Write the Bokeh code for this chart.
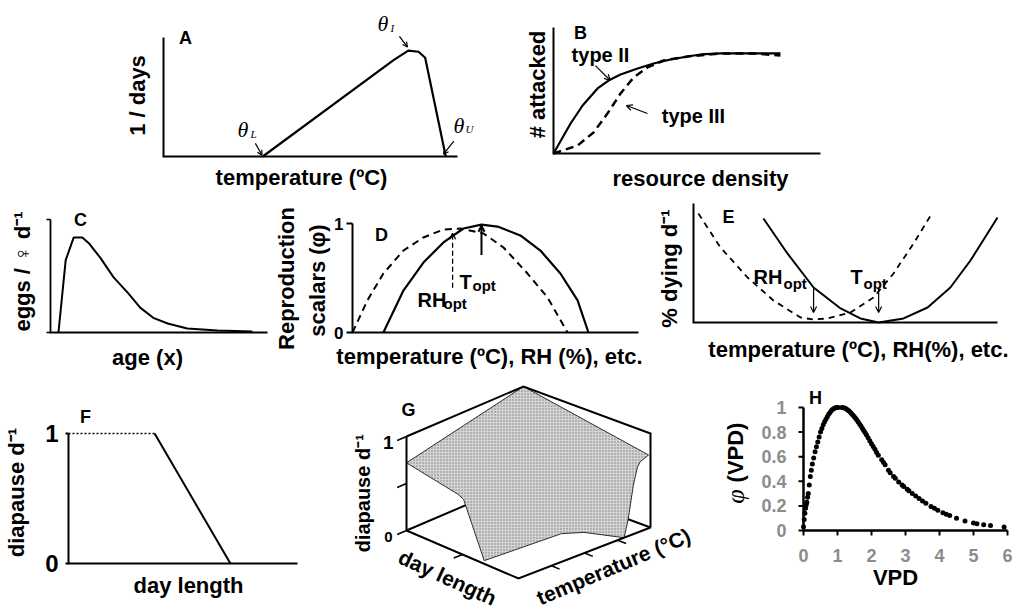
import math
from bokeh.plotting import figure
from bokeh.layouts import column, row
from bokeh.models import Range1d, Label, Arrow, OpenHead
from bokeh.embed import file_html
from bokeh.resources import INLINE

# ---------------- data ----------------
# A: development rate vs temperature
A_temp = [13.5, 31.3, 33.3, 34.7, 35.6, 38.4]
A_rate = [0.0, 0.81, 0.89, 0.88, 0.83, 0.0]

# B: functional responses
B_density2 = [0, 0.064, 0.109, 0.165, 0.206, 0.251, 0.315, 0.375, 0.438, 0.502, 0.551, 0.625, 0.674, 0.749, 0.85]
B_type2 = [0, 0.238, 0.381, 0.516, 0.579, 0.627, 0.675, 0.714, 0.746, 0.770, 0.786, 0.794, 0.794, 0.794, 0.794]
B_density3 = [0, 0.09, 0.15, 0.202, 0.251, 0.30, 0.352, 0.412, 0.502, 0.625, 0.749, 0.85]
B_type3 = [0, 0.063, 0.167, 0.317, 0.476, 0.603, 0.683, 0.738, 0.770, 0.794, 0.794, 0.778]

# C: fecundity vs age
C_age = [1.1, 2.1, 3.2, 4.4, 5.3, 6.9, 8.7, 10.7, 12.4, 14.2, 16.2, 18.9, 23.1, 27.9]
C_eggs = [0, 0.64, 0.84, 0.84, 0.79, 0.66, 0.49, 0.35, 0.22, 0.13, 0.08, 0.035, 0.018, 0.009]

# D: reproduction scalars
D_temp = [0.108, 0.178, 0.248, 0.318, 0.388, 0.451, 0.507, 0.587, 0.657, 0.727, 0.787, 0.825]
D_temp_phi = [0, 0.385, 0.642, 0.826, 0.954, 0.99, 0.972, 0.890, 0.752, 0.541, 0.294, 0]
D_rh = [0, 0.052, 0.108, 0.178, 0.248, 0.318, 0.378, 0.458, 0.528, 0.612, 0.682, 0.752]
D_rh_phi = [0, 0.294, 0.541, 0.752, 0.872, 0.945, 0.954, 0.908, 0.780, 0.541, 0.321, 0]
D_T_opt = 0.451
D_RH_opt = 0.35
D_ticks = [0, 1]

# E: mortality
E_temp = [0.23, 0.309, 0.395, 0.484, 0.549, 0.609, 0.691, 0.77, 0.845, 0.911, 0.967, 1.0]
E_temp_mort = [0.874, 0.58, 0.294, 0.118, 0.034, 0.0, 0.034, 0.126, 0.294, 0.521, 0.748, 0.882]
E_rh = [0.016, 0.089, 0.178, 0.263, 0.352, 0.395, 0.441, 0.516, 0.592, 0.658, 0.724, 0.78]
E_rh_mort = [0.916, 0.63, 0.378, 0.185, 0.042, 0.025, 0.034, 0.084, 0.21, 0.412, 0.664, 0.899]
E_RH_opt = 0.395
E_T_opt = 0.609

# F: diapause vs day length
F_day = [0, 0.376, 0.707]
F_dia = [1, 1, 0]
F_ticks = [0, 1]

# G: diapause surface (day length, temperature, diapause) outline
G_day = [0, 0.46, 0.51, 0.66, 0.70, 0.78, 1, 1, 1, 1, 1, 1, 0]
G_temp = [0, 0, 0, 0.03, 0.6, 0.7, 0.8, 0.83, 0.87, 0.9, 0.92, 0.985, 1]
G_dia = [0.72, 0.62, 0.59, 0, 0, 0, 0, 0.17, 0.52, 0.69, 0.74, 0.78, 1]
G_z_ticks = [0, 0.5, 1]
G_day_ticks = [0.5]
G_temp_ticks = [0.25, 0.5, 0.75]

# H: phi(VPD)
H_vpd = [0.0, 0.02, 0.04, 0.06, 0.08, 0.1, 0.12, 0.14, 0.17, 0.2, 0.23, 0.26, 0.3, 0.34, 0.38, 0.42,
         0.46, 0.5, 0.54, 0.58, 0.62, 0.66, 0.7, 0.74, 0.78, 0.82, 0.86, 0.9, 0.94, 0.98, 1.02,
         1.13, 1.17, 1.21, 1.25, 1.29, 1.33, 1.37, 1.41, 1.45, 1.49, 1.53, 1.57, 1.61, 1.65, 1.69,
         1.73, 1.77, 1.81, 1.85, 1.9, 1.95, 2.0, 2.05, 2.1, 2.15, 2.2, 2.3, 2.35, 2.4, 2.5, 2.55,
         2.65, 2.7, 2.8, 2.9, 2.95, 3.05, 3.1, 3.2, 3.3, 3.4, 3.5, 3.6, 3.75, 3.85, 3.95, 4.1, 4.2,
         4.3, 4.5, 4.75, 5.0, 5.1, 5.3, 5.5, 5.9]
H_phi = [0.03, 0.09, 0.14, 0.18, 0.21, 0.23, 0.27, 0.3, 0.37, 0.44, 0.49, 0.54, 0.59, 0.64, 0.68, 0.72,
         0.76, 0.8, 0.83, 0.86, 0.885, 0.905, 0.925, 0.945, 0.96, 0.975, 0.985, 0.992, 0.997, 1.0, 1.0,
         1.0, 0.998, 0.995, 0.99, 0.982, 0.973, 0.963, 0.952, 0.94, 0.927, 0.913, 0.898, 0.882, 0.866, 0.849,
         0.832, 0.814, 0.796, 0.778, 0.755, 0.73, 0.706, 0.683, 0.66, 0.635, 0.612, 0.575, 0.555, 0.535, 0.49, 0.47,
         0.44, 0.425, 0.395, 0.37, 0.358, 0.335, 0.323, 0.3, 0.28, 0.26, 0.24, 0.222, 0.196, 0.18, 0.165, 0.145, 0.133,
         0.122, 0.1, 0.078, 0.06, 0.055, 0.046, 0.04, 0.028]
H_x_ticks = [0, 1, 2, 3, 4, 5, 6]
H_y_ticks = [0, 0.2, 0.4, 0.6, 0.8, 1]
H_y_labels = ["0", "0.2", "0.4", "0.6", "0.8", "1"]

# ---------------- helpers ----------------
SANS = "Liberation Sans"
SERIF = "Liberation Serif"
LBL = 22
V = math.pi / 2
BASE_SHIFT = 6  # alphabetic labels render a little low; lift them along their own "up"


class Panel:
    """A figure whose frame covers the whole panel box; the axes box (frame)
    is given in page pixels and maps to the data ranges xr, yr."""

    def __init__(self, box, frame, xr, yr):
        self.xr, self.yr, self.frame = xr, yr, frame
        self.kx = (xr[1] - xr[0]) / (frame[2] - frame[0])
        self.ky = (yr[1] - yr[0]) / (frame[3] - frame[1])
        x0, ytop = self.conv(box[0], box[1])
        x1, ybot = self.conv(box[2], box[3])
        self.p = figure(width=box[2] - box[0], height=box[3] - box[1],
                        x_range=Range1d(x0, x1), y_range=Range1d(ybot, ytop),
                        x_axis_type=None, y_axis_type=None,
                        min_border_left=0, min_border_right=0, min_border_top=0,
                        min_border_bottom=0, output_backend="svg", toolbar_location=None,
                        title=None, outline_line_color=None, background_fill_color="white",
                        border_fill_color="white")
        self.p.grid.visible = False

    def conv(self, rx, ry):
        return (self.xr[0] + (rx - self.frame[0]) * self.kx,
                self.yr[0] + (self.frame[3] - ry) * self.ky)

    def axes(self, width=2.0):
        xr, yr = self.xr, self.yr
        self.p.line([xr[0], xr[0], xr[1]], [yr[1], yr[0], yr[0]], line_width=width,
                    line_color="black", line_join="miter")

    def yticks(self, vals, length, width=2.0):
        x0 = self.xr[0]
        self.p.segment(x0=[x0 - length * self.kx] * len(vals), y0=vals, x1=[x0] * len(vals), y1=vals,
                       line_width=width, line_color="black")

    def xticks(self, vals, length, width=2.0):
        y0 = self.yr[0]
        self.p.segment(x0=vals, y0=[y0 - length * self.ky] * len(vals), x1=vals, y1=[y0] * len(vals),
                       line_width=width, line_color="black")

    def lab(self, rx, ry, text, size, align="center", baseline="alphabetic", angle=0.0,
            font=SANS, style="bold", color="black"):
        if baseline == "alphabetic":
            rx -= BASE_SHIFT * math.sin(angle)
            ry -= BASE_SHIFT * math.cos(angle)
        x, y = self.conv(rx, ry)
        self.p.add_layout(Label(x=x, y=y, text=text, text_font=font, text_font_style=style,
                                text_font_size=f"{size}px", text_align=align,
                                text_baseline=baseline, angle=angle, text_color=color))

    def dlab(self, x, y, text, size, align="center", baseline="middle", color="black"):
        self.p.add_layout(Label(x=x, y=y, text=text, text_font=SANS, text_font_style="bold",
                                text_font_size=f"{size}px", text_align=align,
                                text_baseline=baseline, text_color=color))

    def arrow(self, x0, y0, x1, y1, width=1.5, dash="solid", head=7):
        self.p.add_layout(Arrow(end=OpenHead(size=head, line_width=width, line_color="black"),
                                x_start=x0, y_start=y0, x_end=x1, y_end=y1, line_width=width,
                                line_color="black", line_dash=dash))

    def curve(self, xs, ys, width=2.2, dash="solid"):
        self.p.line(xs, ys, line_width=width, line_color="black", line_dash=dash,
                    line_join="round")


# ---------------- Panel A ----------------
A = Panel((0, 0, 505, 193), (163, 37, 457, 156), (0, 40), (0, 1))
A.axes()
A.curve(A_temp, A_rate)
A.lab(143, 95, "1 / days", LBL, angle=V)
A.lab(185, 43, "A", 18)
A.lab(301, 183, "temperature (ºC)", LBL)
for (tx, ty, sx_, sy_, sub) in [(237, 135, 250, 139, "L"), (377, 29, 390, 33, "I"), (453, 131, 465, 134, "U")]:
    A.lab(tx, ty, "θ", 22, align="left", font=SERIF, style="italic")
    A.lab(sx_, sy_, sub, 11, align="left", font=SERIF, style="italic")
A.arrow(12.5, 0.11, A_temp[0] - 0.1, 0.01, width=1.2, head=5)
A.arrow(32.1, 1.01, 33.2, 0.92, width=1.2, head=5)
A.arrow(39.5, 0.13, 38.1, 0.02, width=1.2, head=5)

# ---------------- Panel B ----------------
B = Panel((505, 0, 1024, 193), (553, 27, 820, 153), (0, 1), (0, 1))
B.axes()
B.curve(B_density2, B_type2)
B.curve(B_density3, B_type3, width=2.5, dash="8 5")
B.lab(543, 84, "# attacked", LBL, angle=V)
B.lab(580, 38, "B", 18)
B.lab(600, 60, "type II", 20)
B.lab(693, 121, "type III", 20)
B.lab(700, 184, "resource density", LBL)
B.arrow(0.157, 0.698, 0.213, 0.579, width=1.2, head=6)
B.arrow(0.352, 0.317, 0.273, 0.381, width=1.2, head=6)

# ---------------- Panel C ----------------
C = Panel((0, 193, 270, 380), (50, 219, 267, 332), (0, 30), (0, 1))
C.axes(width=1.8)
C.yticks([0, 1], 4, width=1.5)
C.curve(C_age, C_eggs, width=2)
C.lab(28, 268, "eggs / ♀  d⁻¹", LBL, angle=V)
C.lab(80, 225, "C", 18)
C.lab(147, 363, "age (x)", LBL)

# ---------------- Panel D ----------------
D = Panel((270, 193, 655, 380), (352, 223, 638, 332), (0, 1), (0, 1))
D.axes()
D.yticks(D_ticks, 6)
for v in D_ticks:
    D.dlab(D.xr[0] - 9 * D.kx, v, str(v), 17, align="right")
D.curve(D_temp, D_temp_phi)
D.curve(D_rh, D_rh_phi, width=2, dash="7 5")
D.arrow(D_RH_opt, 0.41, D_RH_opt, 0.91, width=1.3, dash="5 3", head=6)
D.arrow(D_T_opt, 0.71, D_T_opt, 0.98, width=2, head=6)
D.lab(292, 278, "Reproduction", LBL, angle=V)
D.lab(323, 280, "scalars (φ)", LBL, angle=V)
D.lab(381, 240, "D", 18)
D.lab(459, 287, "T", 20, align="left")
D.lab(472, 291, "opt", 15, align="left")
D.lab(417, 305, "RH", 20, align="left")
D.lab(443, 309, "opt", 15, align="left")
D.lab(489, 362, "temperature (ºC), RH (%), etc.", LBL)

# ---------------- Panel E ----------------
E = Panel((655, 193, 1024, 380), (693, 203, 997, 322), (0, 1), (0, 1))
E.axes()
E.curve(E_temp, E_temp_mort, width=2)
E.curve(E_rh, E_rh_mort, width=1.8, dash="6 5")
E.arrow(E_RH_opt, 0.294, E_RH_opt, 0.084, width=1.2, head=6)
E.arrow(E_T_opt, 0.286, E_T_opt, 0.084, width=1.2, head=6)
E.lab(675, 265, "% dying  d⁻¹", LBL, angle=V)
E.lab(728, 222, "E", 18)
E.lab(753, 282, "RH", 20, align="left")
E.lab(783, 289, "opt", 15, align="left")
E.lab(850, 282, "T", 20, align="left")
E.lab(863, 289, "opt", 15, align="left")
E.lab(861, 355, "temperature (ºC), RH(%),  etc.", LBL)

# ---------------- Panel F ----------------
F = Panel((0, 380, 340, 615), (68, 433, 297, 563), (0, 1), (0, 1))
F.axes()
F.yticks(F_ticks, 3)
for v in F_ticks:
    F.dlab(F.xr[0] - 10 * F.kx, v, str(v), 24, align="right")
F.curve(F_day[:2], F_dia[:2], width=1.5, dash="2 2")
F.curve(F_day[1:], F_dia[1:], width=2)
F.lab(22, 489, "diapause  d⁻¹", LBL, angle=V)
F.lab(85, 422, "F", 18)
F.lab(188, 591, "day length", LBL)

# ---------------- Panel G (3-D surface) ----------------
G = Panel((340, 380, 715, 615), (340, 380, 715, 615), (340, 715), (615, 380))
pG = G.p
G_A0, G_B0, G_C0, G_D0, G_ZH = (406, 530), (518, 578), (650, 527), (523, 480), 94


def proj(d, t, z):
    w = ((1 - d) * (1 - t), d * (1 - t), d * t, (1 - d) * t)
    cs = (G_A0, G_B0, G_C0, G_D0)
    x = sum(wi * c[0] for wi, c in zip(w, cs))
    y = sum(wi * c[1] for wi, c in zip(w, cs)) - z * G_ZH
    return G.conv(x, y)


def seg3(pts, width=2.0):
    xy = [proj(*q) for q in pts]
    pG.line([a for a, _ in xy], [b for _, b in xy], line_width=width, line_color="black",
            line_join="miter")


seg3([(0, 0, 0), (0, 1, 0), (1, 1, 0)], width=2)
surf = [proj(d, t, z) for d, t, z in zip(G_day, G_temp, G_dia)]
pG.patch([a for a, _ in surf], [b for _, b in surf], fill_color="#d4d4d4", line_color="black",
         line_width=0.8, hatch_pattern="dot", hatch_color="#7a7a7a", hatch_scale=3, hatch_weight=1)
seg3([(0, 0, 0), (0, 0, 1)])
seg3([(0, 0, 1), (0, 1, 1), (1, 1, 1), (1, 1, 0)])
seg3([(0, 0, 0), (1, 0, 0), (1, 1, 0)])
for z in G_z_ticks:
    seg3([(0, -0.08, z), (0, 0, z)], width=1.5)
for d in G_day_ticks:
    seg3([(d, -0.07, 0), (d, 0, 0)], width=1.5)
for t in G_temp_ticks:
    seg3([(1, t, 0), (1.07, t, 0)], width=1.5)
G.lab(408, 415, "G", 18)
G.lab(393, 448, "1", 19, align="right")
G.lab(392, 542, "0", 15, align="right")
G.lab(368, 490, "diapause  d⁻¹", 20, angle=V)
G.lab(447, 577, "day length", 21, angle=-0.43, baseline="middle")
G.lab(613, 566, "temperature (°C)", 21, angle=0.40, baseline="middle")

# ---------------- Panel H ----------------
H = Panel((715, 380, 1024, 615), (803, 407, 1007, 530), (0, 6), (0, 1))
H.axes(width=2.5)
H.xticks(H_x_ticks, 5)
H.yticks(H_y_ticks, 5)
H.p.scatter(H_vpd, H_phi, size=5, fill_color="black", line_color=None)
for v in H_x_ticks:
    H.dlab(v, H.yr[0] - 18 * H.ky, str(v), 18, baseline="top", color="#8c8c8c")
for v, t in zip(H_y_ticks, H_y_labels):
    H.dlab(H.xr[0] - 17 * H.kx, v, t, 18, align="right", color="#8c8c8c")
H.lab(741, 496, "φ", 26, angle=V, font=SERIF, style="italic")
H.lab(741, 452, "(VPD)", LBL, angle=V)
H.lab(815, 403, "H", 18)
H.lab(895, 583, "VPD", LBL)

layout = column(row(A.p, B.p, spacing=0), row(C.p, D.p, E.p, spacing=0),
                row(F.p, G.p, H.p, spacing=0), spacing=0)
open("out.html", "w").write(file_html(layout, INLINE))
